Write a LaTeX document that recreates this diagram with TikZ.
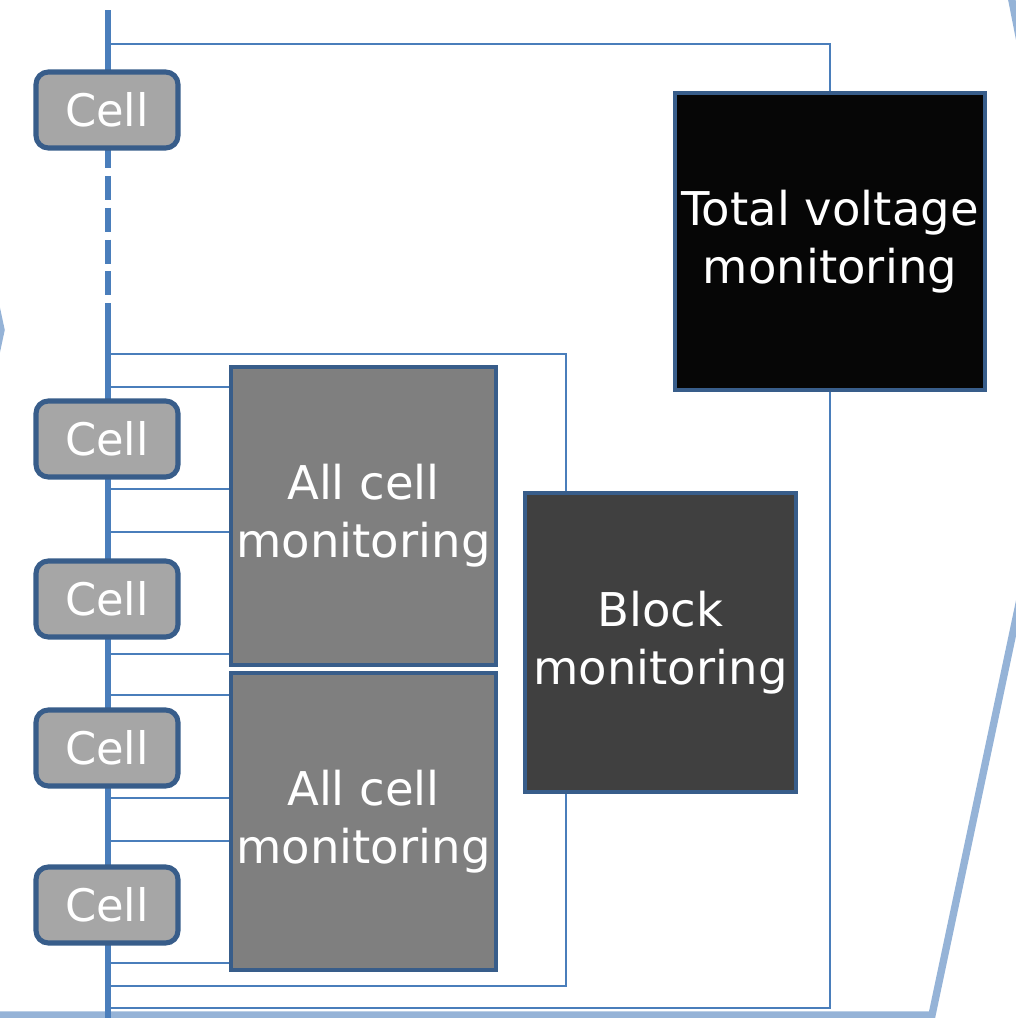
\documentclass[tikz,border=0pt]{standalone}
\usepackage{fontspec}
\setmainfont{DejaVu Sans}
\definecolor{busblue}{RGB}{74,126,187}
\definecolor{edgeblue}{RGB}{56,93,138}
\definecolor{paleblue}{RGB}{149,179,215}
\definecolor{cellgray}{RGB}{166,166,166}
\definecolor{acmgray}{RGB}{127,127,127}
\definecolor{blockgray}{RGB}{64,64,64}
\definecolor{totalblack}{RGB}{6,6,6}
\usetikzlibrary{positioning,calc}

\begin{document}
\begin{tikzpicture}[x=0.02cm, y=-0.02cm,
    bus/.style={line width=3.5pt, busblue},
    tap/.style={line width=1.1pt, busblue},
    outline/.style={line width=4.2pt, paleblue},
    cellbox/.style={draw=edgeblue, line width=2.9pt, fill=cellgray, rounded corners=7pt,
      minimum width=2.84cm, minimum height=1.52cm, text=white, font=\fontsize{25.5}{33}\selectfont},
    monbox/.style={draw=edgeblue, line width=2.3pt, text=white, align=center,
      font=\fontsize{26.5}{33}\selectfont}]
      \useasboundingbox (0,0) rectangle (1016,1018);
      \begin{scope}
        \clip (0,0) rectangle (1016,1018);
        % pale outline of the surrounding shape
        \draw[outline, line join=miter] (1003,-45) -- (1077,330) -- (932,1015) -- (-20,1015);
        \draw[outline, line join=miter] (-14,260) -- (1,330) -- (-14,400);
      \end{scope}
      % monitoring units
      \node[monbox, fill=totalblack, minimum width=6.16cm, minimum height=5.94cm] (total) at (830,241.5) {Total voltage\\monitoring};
      \node[monbox, fill=blockgray, minimum width=5.42cm, minimum height=5.98cm] (block) at (660.5,642.5) {Block\\monitoring};
      \node[monbox, fill=acmgray, minimum width=5.3cm, minimum height=5.96cm] (acm1) at (363.5,516) {All cell\\monitoring};
      \node[monbox, fill=acmgray, minimum width=5.3cm, minimum height=5.94cm] (acm2) at (363.5,821.5) {All cell\\monitoring};
      % loops back to the bus
      \coordinate (tvtop) at (108,44);
      \coordinate (tvbot) at (108,1008);
      \coordinate (bktop) at (108,354);
      \coordinate (bkbot) at (108,986);
      \coordinate (bkin) at ($(block.north west)+(43,0)$);
      \coordinate (bkout) at ($(block.south west)+(43,0)$);
      \draw[tap] (tvtop) -| (total.north);
      \draw[tap] (total.south) |- (tvbot);
      \draw[tap] (bktop) -| (bkin);
      \draw[tap] (bkout) |- (bkbot);
      % taps to the cell monitors
      \foreach \y in {387,489,532,654} {
        \coordinate (t) at (108,\y);
        \draw[tap] (t) -- (t -| acm1.west);
      }
      \foreach \y in {695,798,841,963} {
        \coordinate (t) at (108,\y);
        \draw[tap] (t) -- (t -| acm2.west);
      }
      % the bus
      \coordinate (busa) at (108,10);
      \coordinate (busb) at (108,168);
      \coordinate (busc) at (108,176);
      \coordinate (busd) at (108,304);
      \coordinate (buse) at (108,1018);
      \draw[bus] (busa) -- (busb);
      \draw[bus, dash pattern=on 13.6pt off 4.5pt] (busc) -- (busd);
      \draw[bus] (busd) -- (buse);
      % cells
      \node[cellbox] (cell1) at (107,110) {Cell};
      \node[cellbox] (cell2) at (107,439) {Cell};
      \node[cellbox] (cell3) at (107,599) {Cell};
      \node[cellbox] (cell4) at (107,748) {Cell};
      \node[cellbox] (cell5) at (107,905) {Cell};
    \end{tikzpicture}
\end{document}
